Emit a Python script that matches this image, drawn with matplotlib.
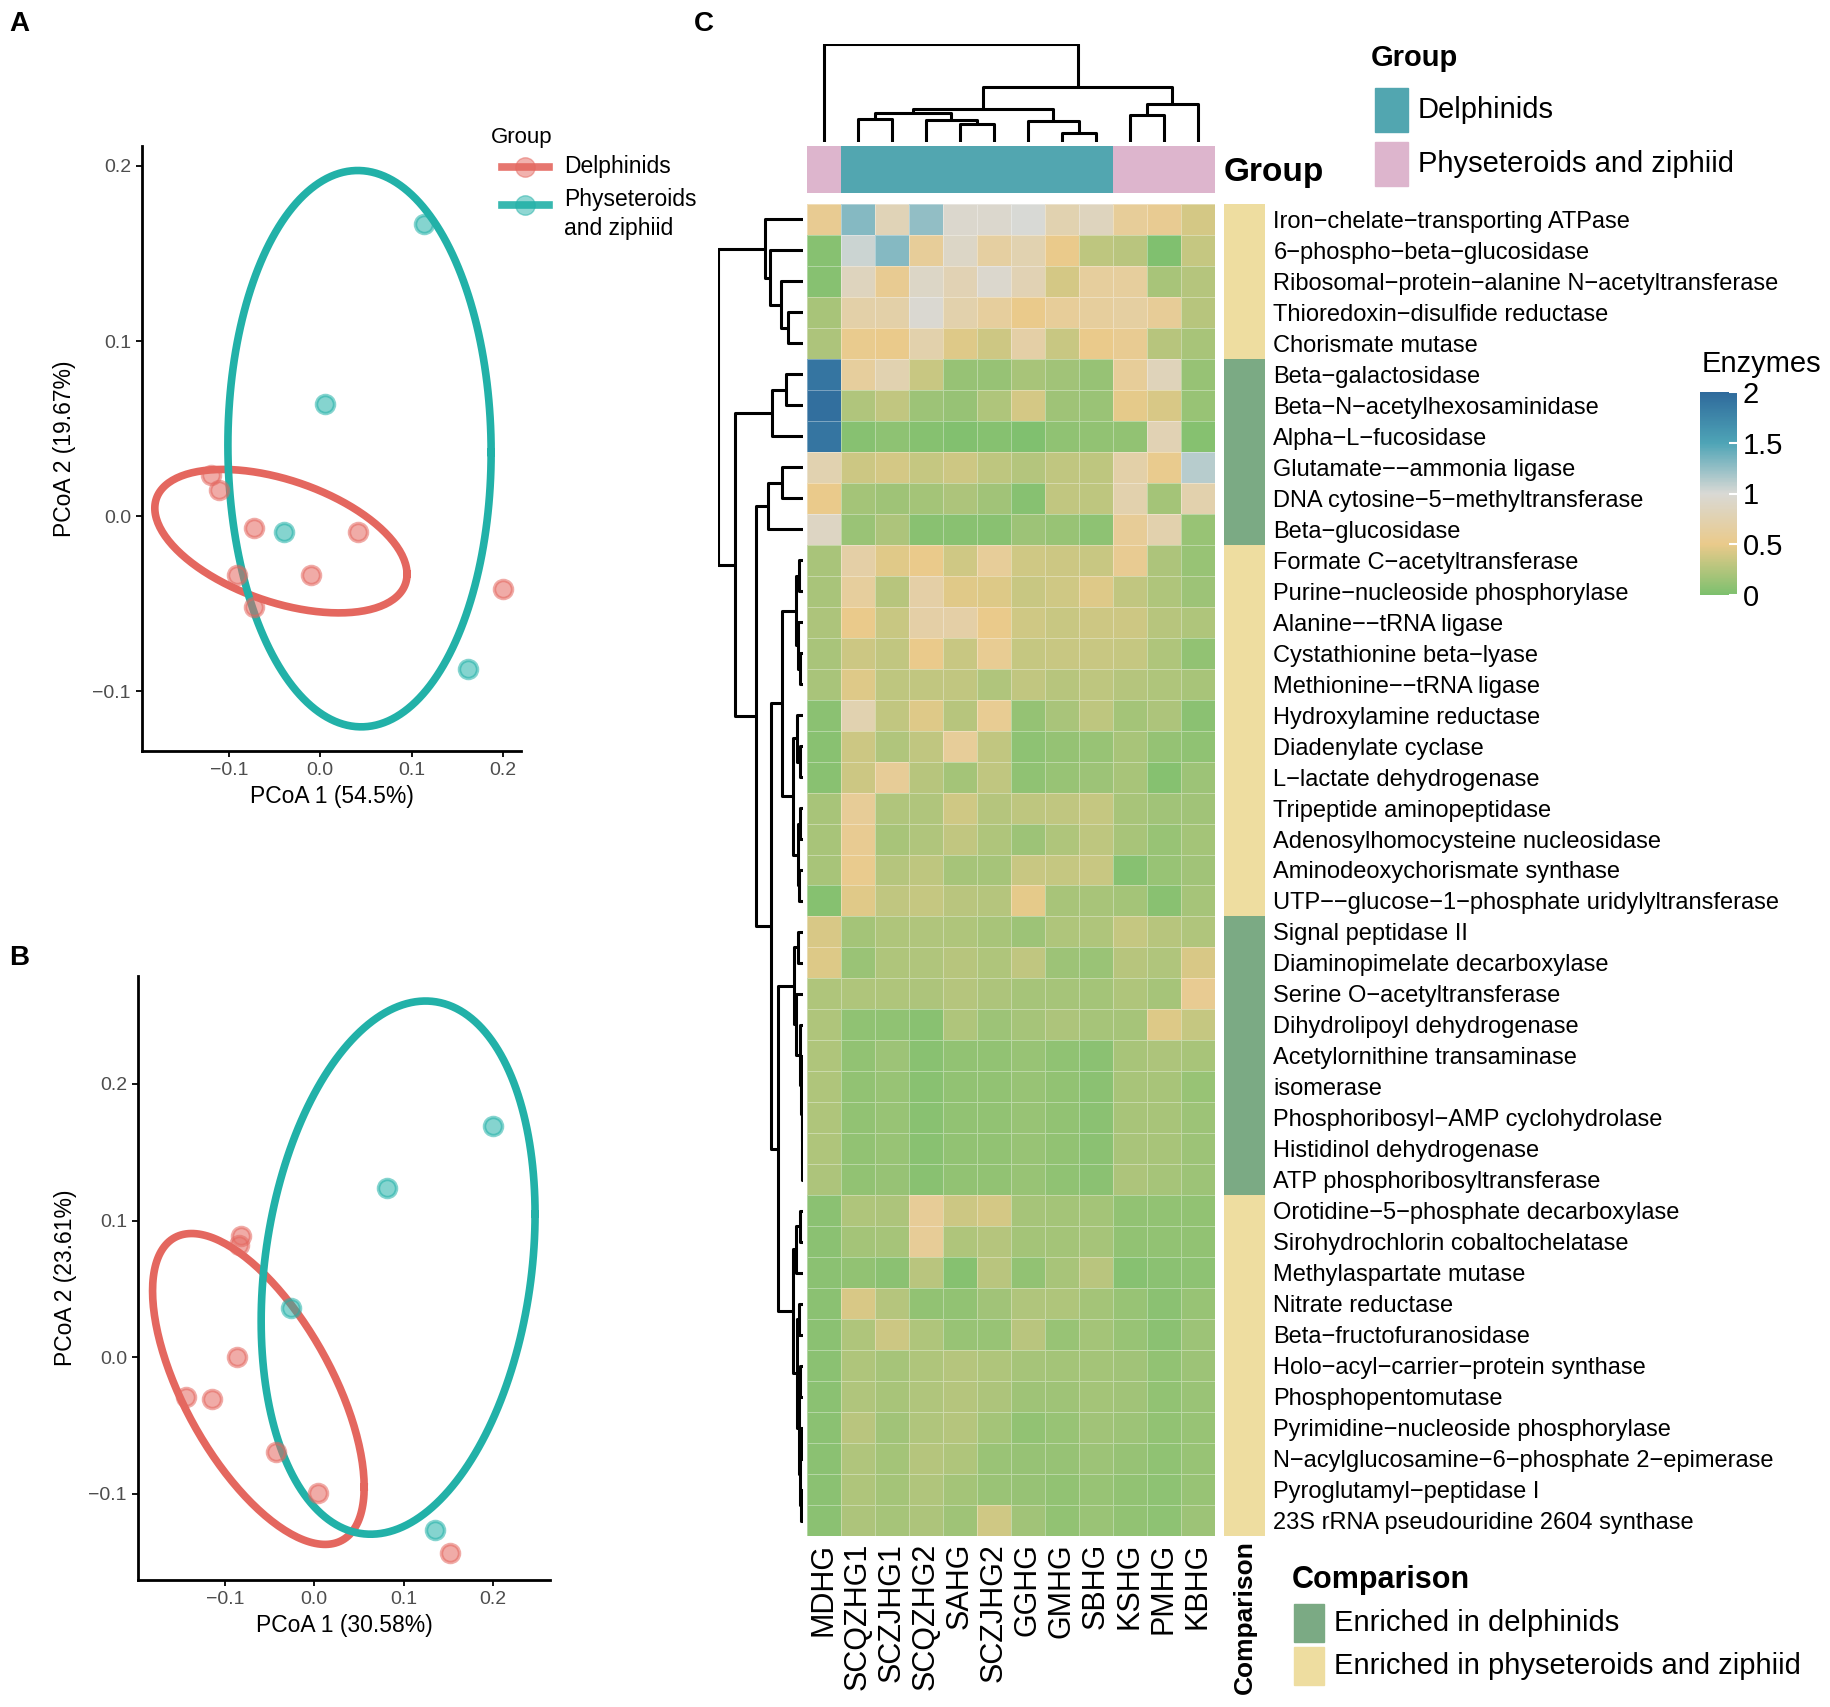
import numpy as np
import matplotlib.pyplot as plt
from matplotlib.colors import LinearSegmentedColormap, ListedColormap
from matplotlib.lines import Line2D
from matplotlib.patches import Rectangle
from matplotlib.ticker import FuncFormatter

plt.rcParams['font.family'] = ['Liberation Sans', 'DejaVu Sans']

# ---------------- data ----------------
# PCoA A (samples), two groups
pcoa_a_delph = [(-0.120, 0.0234), (-0.111, 0.015), (-0.072, -0.0066), (0.0415, -0.0087),
                (-0.091, -0.0336), (-0.0105, -0.0336), (-0.072, -0.052), (0.2005, -0.0415)]
pcoa_a_phys = [(0.114, 0.1667), (0.0055, 0.0643), (-0.040, -0.0087), (0.1615, -0.0869)]
# PCoA B
pcoa_b_delph = [(-0.0826, 0.0886), (-0.084, 0.0819), (-0.0867, 0.0), (-0.144, -0.0289),
                (-0.115, -0.0302), (-0.043, -0.0691), (0.0041, -0.0993), (0.152, -0.1436)]
pcoa_b_phys = [(0.200, 0.169), (0.0815, 0.1238), (-0.0256, 0.0362), (0.1354, -0.1262)]

# 95% ellipses: centre and shape (covariance scaled by radius^2)
ell_a_delph = ((-0.043, -0.0142), [[0.01904, -0.0026], [-0.0026, 0.001677]])
ell_a_phys = ((0.043, 0.0386), [[0.02074, -0.0003], [-0.0003, 0.02522]])
ell_b_delph = ((-0.0626, -0.0232), [[0.01404, -0.0085], [-0.0085, 0.01294]])
ell_b_phys = ((0.0939, 0.0656), [[0.02352, 0.0060], [0.0060, 0.03806]])

samples = ['MDHG', 'SCQZHG1', 'SCZJHG1', 'SCQZHG2', 'SAHG', 'SCZJHG2',
           'GGHG', 'GMHG', 'SBHG', 'KSHG', 'PMHG', 'KBHG']
sample_group = ['Physeteroids and ziphiid'] + ['Delphinids'] * 8 + ['Physeteroids and ziphiid'] * 3

enzymes = [
    'Iron−chelate−transporting ATPase', '6−phospho−beta−glucosidase',
    'Ribosomal−protein−alanine N−acetyltransferase', 'Thioredoxin−disulfide reductase',
    'Chorismate mutase', 'Beta−galactosidase', 'Beta−N−acetylhexosaminidase',
    'Alpha−L−fucosidase', 'Glutamate−−ammonia ligase', 'DNA cytosine−5−methyltransferase',
    'Beta−glucosidase', 'Formate C−acetyltransferase', 'Purine−nucleoside phosphorylase',
    'Alanine−−tRNA ligase', 'Cystathionine beta−lyase', 'Methionine−−tRNA ligase',
    'Hydroxylamine reductase', 'Diadenylate cyclase', 'L−lactate dehydrogenase',
    'Tripeptide aminopeptidase', 'Adenosylhomocysteine nucleosidase',
    'Aminodeoxychorismate synthase', 'UTP−−glucose−1−phosphate uridylyltransferase',
    'Signal peptidase II', 'Diaminopimelate decarboxylase', 'Serine O−acetyltransferase',
    'Dihydrolipoyl dehydrogenase', 'Acetylornithine transaminase', 'isomerase',
    'Phosphoribosyl−AMP cyclohydrolase', 'Histidinol dehydrogenase',
    'ATP phosphoribosyltransferase', 'Orotidine−5−phosphate decarboxylase',
    'Sirohydrochlorin cobaltochelatase', 'Methylaspartate mutase', 'Nitrate reductase',
    'Beta−fructofuranosidase', 'Holo−acyl−carrier−protein synthase', 'Phosphopentomutase',
    'Pyrimidine−nucleoside phosphorylase', 'N−acylglucosamine−6−phosphate 2−epimerase',
    'Pyroglutamyl−peptidase I', '23S rRNA pseudouridine 2604 synthase']

comparison = (['phys'] * 5 + ['delph'] * 6 + ['phys'] * 12 + ['delph'] * 9 + ['phys'] * 11)

values = [
    [0.55, 1.30, 0.80, 1.25, 0.95, 0.95, 1.00, 0.75, 0.85, 0.60, 0.55, 0.40],
    [0.05, 1.05, 1.30, 0.60, 0.90, 0.65, 0.75, 0.50, 0.30, 0.28, 0.02, 0.33],
    [0.05, 0.85, 0.55, 0.90, 0.78, 0.95, 0.78, 0.40, 0.62, 0.62, 0.20, 0.26],
    [0.20, 0.70, 0.70, 0.97, 0.72, 0.62, 0.50, 0.60, 0.62, 0.65, 0.58, 0.27],
    [0.22, 0.52, 0.50, 0.72, 0.45, 0.37, 0.68, 0.35, 0.50, 0.55, 0.27, 0.20],
    [1.90, 0.62, 0.75, 0.35, 0.12, 0.12, 0.20, 0.17, 0.12, 0.60, 0.82, 0.12],
    [1.95, 0.24, 0.32, 0.15, 0.12, 0.23, 0.40, 0.16, 0.14, 0.48, 0.42, 0.13],
    [1.90, 0.05, 0.08, 0.04, 0.03, 0.04, 0.02, 0.09, 0.10, 0.10, 0.78, 0.04],
    [0.75, 0.36, 0.40, 0.33, 0.37, 0.30, 0.25, 0.31, 0.30, 0.70, 0.52, 1.12],
    [0.50, 0.18, 0.16, 0.18, 0.22, 0.17, 0.05, 0.32, 0.30, 0.73, 0.18, 0.73],
    [0.88, 0.14, 0.22, 0.06, 0.06, 0.06, 0.15, 0.13, 0.08, 0.58, 0.73, 0.13],
    [0.21, 0.68, 0.46, 0.50, 0.38, 0.60, 0.38, 0.36, 0.35, 0.55, 0.22, 0.13],
    [0.21, 0.62, 0.27, 0.68, 0.46, 0.44, 0.35, 0.38, 0.45, 0.32, 0.23, 0.15],
    [0.22, 0.50, 0.35, 0.68, 0.68, 0.50, 0.38, 0.35, 0.37, 0.37, 0.27, 0.23],
    [0.21, 0.36, 0.32, 0.50, 0.35, 0.56, 0.33, 0.35, 0.35, 0.33, 0.23, 0.10],
    [0.21, 0.45, 0.30, 0.32, 0.32, 0.24, 0.32, 0.27, 0.30, 0.26, 0.23, 0.20],
    [0.07, 0.75, 0.32, 0.45, 0.27, 0.56, 0.11, 0.21, 0.30, 0.18, 0.22, 0.07],
    [0.06, 0.36, 0.24, 0.31, 0.60, 0.32, 0.08, 0.11, 0.13, 0.20, 0.11, 0.09],
    [0.06, 0.36, 0.58, 0.27, 0.18, 0.31, 0.09, 0.13, 0.15, 0.20, 0.04, 0.15],
    [0.20, 0.58, 0.24, 0.24, 0.38, 0.26, 0.30, 0.31, 0.33, 0.20, 0.17, 0.17],
    [0.20, 0.55, 0.20, 0.24, 0.32, 0.23, 0.15, 0.23, 0.30, 0.20, 0.13, 0.18],
    [0.20, 0.52, 0.26, 0.30, 0.19, 0.19, 0.35, 0.33, 0.35, 0.05, 0.13, 0.17],
    [0.04, 0.46, 0.31, 0.33, 0.28, 0.26, 0.48, 0.20, 0.20, 0.18, 0.06, 0.19],
    [0.42, 0.18, 0.23, 0.24, 0.23, 0.20, 0.15, 0.23, 0.23, 0.33, 0.27, 0.24],
    [0.44, 0.14, 0.23, 0.24, 0.27, 0.23, 0.31, 0.15, 0.14, 0.27, 0.24, 0.42],
    [0.23, 0.23, 0.23, 0.22, 0.26, 0.22, 0.19, 0.19, 0.18, 0.23, 0.19, 0.55],
    [0.23, 0.09, 0.09, 0.06, 0.23, 0.15, 0.19, 0.22, 0.19, 0.19, 0.44, 0.33],
    [0.23, 0.10, 0.15, 0.06, 0.10, 0.10, 0.13, 0.09, 0.07, 0.20, 0.22, 0.20],
    [0.23, 0.10, 0.13, 0.06, 0.10, 0.10, 0.13, 0.10, 0.07, 0.20, 0.20, 0.13],
    [0.23, 0.10, 0.13, 0.06, 0.10, 0.10, 0.13, 0.10, 0.07, 0.20, 0.20, 0.15],
    [0.23, 0.10, 0.13, 0.06, 0.10, 0.10, 0.13, 0.10, 0.07, 0.21, 0.20, 0.15],
    [0.22, 0.10, 0.12, 0.06, 0.10, 0.10, 0.13, 0.09, 0.07, 0.22, 0.19, 0.15],
    [0.07, 0.23, 0.22, 0.58, 0.36, 0.40, 0.19, 0.18, 0.18, 0.10, 0.10, 0.10],
    [0.07, 0.18, 0.19, 0.58, 0.23, 0.26, 0.18, 0.18, 0.19, 0.10, 0.10, 0.10],
    [0.07, 0.10, 0.07, 0.28, 0.04, 0.28, 0.10, 0.20, 0.28, 0.05, 0.07, 0.08],
    [0.07, 0.42, 0.26, 0.10, 0.10, 0.17, 0.24, 0.23, 0.18, 0.13, 0.07, 0.13],
    [0.07, 0.23, 0.36, 0.23, 0.13, 0.13, 0.28, 0.13, 0.18, 0.13, 0.07, 0.15],
    [0.07, 0.23, 0.19, 0.23, 0.26, 0.23, 0.19, 0.18, 0.18, 0.17, 0.10, 0.15],
    [0.07, 0.24, 0.20, 0.24, 0.26, 0.22, 0.16, 0.16, 0.18, 0.17, 0.10, 0.14],
    [0.07, 0.28, 0.17, 0.24, 0.26, 0.18, 0.10, 0.13, 0.17, 0.15, 0.10, 0.13],
    [0.07, 0.24, 0.18, 0.26, 0.23, 0.14, 0.12, 0.12, 0.15, 0.12, 0.09, 0.13],
    [0.07, 0.23, 0.18, 0.24, 0.18, 0.14, 0.12, 0.10, 0.13, 0.10, 0.08, 0.13],
    [0.07, 0.22, 0.19, 0.22, 0.16, 0.38, 0.17, 0.10, 0.14, 0.10, 0.08, 0.15],
]

# dendrograms: (left, right, height), leaves are positions
col_tree = (0, ((((1, 2, 70), (3, (4, 5, 55), 65), 87), (6, (7, 8, 27), 63), 100),
                ((9, 10, 82), 11, 115), 163), 293)

row_a = (0, (1, (2, (3, 4, 45), 65), 100), 115)
row_b = ((5, 6, 52), 7, 92)
row_c = ((8, 9, 62), 10, 105)
row_d1 = (((11, 12, 12), (13, (14, 15, 8), 14), 22),
          ((16, (17, 18, 10), 18), ((19, 20, 9), (21, 22, 11), 16), 30), 62)
row_d2 = (((23, 24, 14), (25, (26, (27, (28, (29, (30, 31, 2), 3), 4), 6), 9), 20), 28),
          (((32, 33, 10), 34, 20), ((35, 36, 12), ((37, 38, 8), ((39, 40, 7), (41, 42, 6), 10), 13), 18), 30), 75)
row_tree = (row_a, (row_b, (row_c, (row_d1, row_d2, 95), 140), 205), 255)

RED = '#E4675F'
TEAL = '#22B1A8'
GRP_COL = {'Delphinids': '#52A6B0', 'Physeteroids and ziphiid': '#DDB5CD'}
CMP_COL = {'delph': '#7BAA84', 'phys': '#EEDDA0'}

W, H = 1831, 1707


def rect(x0, y0, x1, y1):
    return [x0 / W, 1 - y1 / H, (x1 - x0) / W, (y1 - y0) / H]


def ellipse(ell, seg=200):
    center, shape = ell
    t = np.linspace(0, 2 * np.pi, seg + 1)
    circle = np.column_stack([np.cos(t), np.sin(t)])
    L = np.linalg.cholesky(np.array(shape))
    return np.array(center) + circle @ L.T


def minus_fmt(v, pos):
    return f'{v:.1f}'.replace('-', '\u2212')


def pcoa(ax, delph, phys, ells, xlab, ylab, xlim, ylim, ylabpad):
    for ell, col in zip(ells, (RED, TEAL)):
        e = ellipse(ell)
        ax.plot(e[:, 0], e[:, 1], color=col, lw=5.5, zorder=2)
    for pts, col in [(delph, RED), (phys, TEAL)]:
        p = np.asarray(pts)
        ax.plot(p[:, 0], p[:, 1], 'o', ms=13, mfc=col, mec=col, mew=2.5, alpha=0.55, zorder=3)
    ax.set_xlim(*xlim)
    ax.set_ylim(*ylim)
    ax.set_xticks([-0.1, 0.0, 0.1, 0.2])
    ax.set_yticks([-0.1, 0.0, 0.1, 0.2])
    ax.xaxis.set_major_formatter(FuncFormatter(minus_fmt))
    ax.yaxis.set_major_formatter(FuncFormatter(minus_fmt))
    for s in ['top', 'right']:
        ax.spines[s].set_visible(False)
    for s in ['left', 'bottom']:
        ax.spines[s].set_linewidth(2)
    ax.tick_params(length=4, width=1.3, labelsize=14, labelcolor='#4D4D4D', pad=4)
    ax.set_xlabel(xlab, fontsize=16.5, labelpad=4)
    ax.set_ylabel(ylab, fontsize=16.5, labelpad=ylabpad)


def draw_tree(ax, node, orient):
    if isinstance(node, int):
        return node + 0.5, 0
    l, r, h = node
    pl, hl = draw_tree(ax, l, orient)
    pr, hr = draw_tree(ax, r, orient)
    if orient == 'top':
        ax.plot([pl, pl, pr, pr], [hl, h, h, hr], color='black', lw=2.2, solid_capstyle='butt')
    else:
        ax.plot([hl, h, h, hr], [pl, pl, pr, pr], color='black', lw=2.2, solid_capstyle='butt')
    return (pl + pr) / 2, h


fig = plt.figure(figsize=(W / 100, H / 100), dpi=100)

# ---------------- panel A ----------------
ax_a = fig.add_axes(rect(142, 146, 521, 751))
pcoa(ax_a, pcoa_a_delph, pcoa_a_phys, (ell_a_delph, ell_a_phys), 'PCoA 1 (54.5%)',
     'PCoA 2 (19.67%)', (-0.195, 0.2197), (-0.134, 0.2114), 12)

# legend of panel A, drawn by hand like the ggplot guide
fig.text(491 / W, 1 - 137 / H, 'Group', fontsize=16, ha='left', va='center')
for name, col, ykey, ytxt in [('Delphinids', RED, 167, 167),
                              ('Physeteroids\nand ziphiid', TEAL, 205, 214)]:
    fig.add_artist(Line2D([502 / W, 549 / W], [1 - ykey / H] * 2, color=col, lw=5.5,
                          alpha=0.9, transform=fig.transFigure))
    fig.add_artist(Line2D([525.5 / W], [1 - ykey / H], marker='o', ms=14, mfc=col, mec=col,
                          alpha=0.5, transform=fig.transFigure))
    fig.text(564 / W, 1 - ytxt / H, name, fontsize=16.5, ha='left', va='center',
             linespacing=1.3)

# ---------------- panel B ----------------
ax_b = fig.add_axes(rect(138, 976, 550, 1580))
pcoa(ax_b, pcoa_b_delph, pcoa_b_phys, (ell_b_delph, ell_b_phys), 'PCoA 1 (30.58%)',
     'PCoA 2 (23.61%)', (-0.1974, 0.264), (-0.163, 0.279), 8)

# ---------------- panel C heatmap ----------------
vals = np.array(values)
nrow, ncol = vals.shape
cmap = LinearSegmentedColormap.from_list(
    'enz', [(0, '#7DC06E'), (0.25, '#EACA8B'), (0.5, '#D9D9D5'), (0.75, '#4EA4B6'), (1, '#2F6A9C')])

ax_h = fig.add_axes(rect(807, 204, 1215, 1536))
mesh = ax_h.pcolormesh(np.arange(ncol + 1), np.arange(nrow + 1), vals, cmap=cmap, vmin=0, vmax=2,
                       edgecolors=(1, 1, 1, 0.35), linewidth=0.6)
ax_h.set_xlim(0, ncol)
ax_h.set_ylim(nrow, 0)
ax_h.set_yticks([])
ax_h.set_xticks(np.arange(ncol) + 0.5)
ax_h.set_xticklabels(samples, rotation=90, fontsize=22)
ax_h.tick_params(axis='x', length=0, pad=5)
for s in ax_h.spines.values():
    s.set_visible(False)

# column group bar
ax_g = fig.add_axes(rect(807, 146, 1215, 193))
grp_names = list(GRP_COL)
ax_g.pcolormesh(np.arange(ncol + 1), [0, 1], [[grp_names.index(g) for g in sample_group]],
                cmap=ListedColormap([GRP_COL[g] for g in grp_names]), vmin=-0.5, vmax=1.5)
ax_g.set_xlim(0, ncol)
ax_g.axis('off')
fig.text(1224 / W, 1 - 172 / H, 'Group', fontsize=24, fontweight='bold', ha='left', va='center')

# comparison bar
ax_c = fig.add_axes(rect(1224, 204, 1265, 1536))
cmp_names = list(CMP_COL)
ax_c.pcolormesh([0, 1], np.arange(nrow + 1), [[cmp_names.index(c)] for c in comparison],
                cmap=ListedColormap([CMP_COL[c] for c in cmp_names]), vmin=-0.5, vmax=1.5)
ax_c.set_ylim(nrow, 0)
ax_c.set_xticks([])
ax_c.set_yticks(np.arange(nrow) + 0.5)
ax_c.set_yticklabels(enzymes, fontsize=17)
ax_c.yaxis.tick_right()
ax_c.tick_params(axis='y', length=0, pad=6)
for s in ax_c.spines.values():
    s.set_visible(False)
fig.text(1245 / W, 1 - 1540 / H, 'Comparison', fontsize=19, fontweight='bold', rotation=90,
         ha='center', va='top')

# dendrograms
ax_dc = fig.add_axes(rect(807, 44, 1215, 142))
draw_tree(ax_dc, col_tree, 'top')
ax_dc.set_xlim(0, ncol)
ax_dc.set_ylim(0, 293)
ax_dc.axis('off')

ax_dr = fig.add_axes(rect(718, 204, 803, 1536))
draw_tree(ax_dr, row_tree, 'left')
ax_dr.set_xlim(255, 0)
ax_dr.set_ylim(nrow, 0)
ax_dr.axis('off')

# colour bar
cax = fig.add_axes(rect(1700, 392, 1737, 595))
cb = fig.colorbar(mesh, cax=cax, ticks=[0, 0.5, 1, 1.5, 2])
cb.outline.set_visible(False)
cb.ax.set_yticklabels(['0', '0.5', '1', '1.5', '2'])
cb.ax.tick_params(direction='in', color='white', length=6, width=1.5, labelsize=21, pad=4)
fig.text(1702 / W, 1 - 364 / H, 'Enzymes', fontsize=21, ha='left', va='center')

# group legend
fig.text(1371 / W, 1 - 58 / H, 'Group', fontsize=21, fontweight='bold', ha='left', va='center')
for i, g in enumerate(grp_names):
    yc = 110 + i * 54
    fig.patches.append(Rectangle((1375 / W, 1 - (yc + 22) / H), 33 / W, 44 / H,
                                 transform=fig.transFigure, color=GRP_COL[g]))
    fig.text(1418 / W, 1 - yc / H, g, fontsize=21, ha='left', va='center')

# comparison legend
fig.text(1292 / W, 1 - 1580 / H, 'Comparison', fontsize=22, fontweight='bold', ha='left', va='center')
cmp_labels = {'delph': 'Enriched in delphinids', 'phys': 'Enriched in physeteroids and ziphiid'}
for i, c in enumerate(cmp_names):
    yc = 1623 + i * 43
    fig.patches.append(Rectangle((1294 / W, 1 - (yc + 19) / H), 30 / W, 38 / H,
                                 transform=fig.transFigure, color=CMP_COL[c]))
    fig.text(1334 / W, 1 - yc / H, cmp_labels[c], fontsize=21, ha='left', va='center')

# panel letters
for letter, x, y in [('A', 9, 24), ('B', 9, 958), ('C', 694, 24)]:
    fig.text(x / W, 1 - y / H, letter, fontsize=20, fontweight='bold', ha='left', va='center')

fig.savefig('out.png', dpi=100)
